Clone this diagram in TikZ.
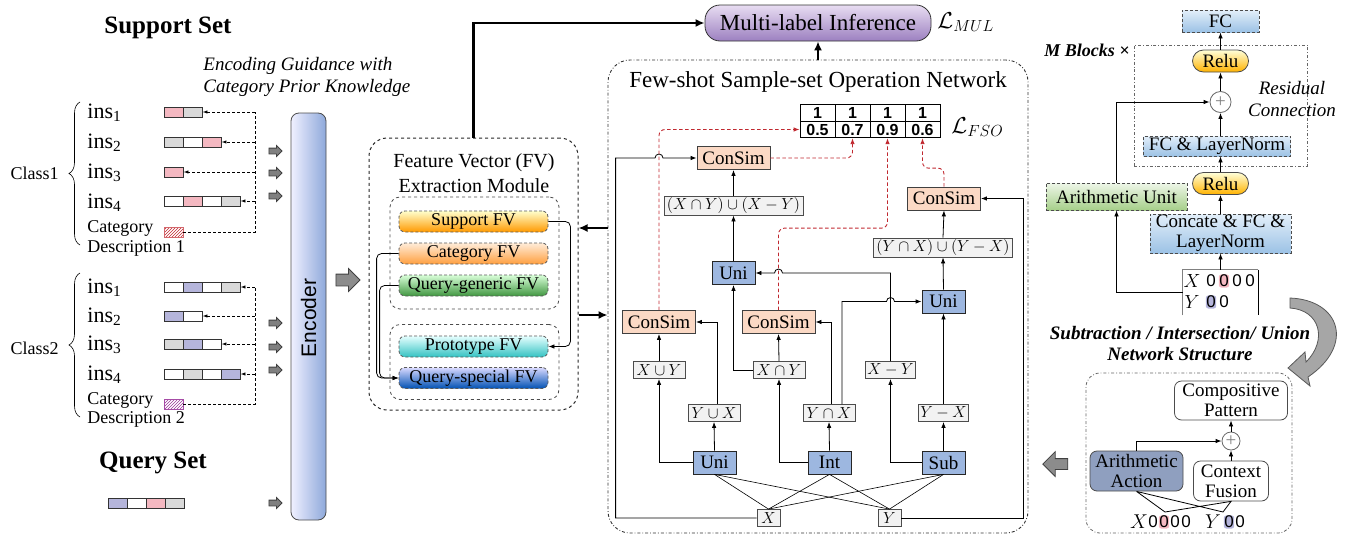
\documentclass[tikz,border=0pt]{standalone}
\usepackage{fix-cm}
\usepackage{amsmath}
\usepackage{fontspec}
\setmainfont{Liberation Serif}
\setsansfont{Liberation Sans}
\usetikzlibrary{arrows.meta,patterns,shapes.arrows,decorations.pathreplacing}

\definecolor{pinkc}{HTML}{F4B8C1}
\definecolor{grayc}{HTML}{D9D9D9}
\definecolor{bluec}{HTML}{B5B5DB}
\definecolor{peach}{HTML}{FBD9C5}
\definecolor{opblue}{HTML}{9DB7E0}
\definecolor{encblue}{HTML}{8EA9DB}
\definecolor{aablue}{HTML}{8F9FBF}
\definecolor{dashred}{HTML}{C0282F}
\definecolor{mlitop}{HTML}{E8DDF2}
\definecolor{mlibot}{HTML}{9C80C0}
\definecolor{lbtop}{HTML}{E3EFFA}
\definecolor{lbbot}{HTML}{9CC2E5}
\definecolor{gntop}{HTML}{EEF6E8}
\definecolor{gnbot}{HTML}{A6CF8A}

\newcommand\fsize[2]{\fontsize{#1}{#2}\selectfont}
\newcommand\vecbar[4]{\foreach \col [count=\n] in {#4} {\node[cell, fill=\col] (#1-\n) at ({#2+19*\n-9.5},#3) {};}}

\tikzset{
  cell/.style={draw=black!80, line width=0.9pt, minimum width=19pt, minimum height=10pt, inner sep=0pt},
  guide/.style={dash pattern=on 3pt off 2pt, line width=0.9pt, -{Latex[length=5pt,width=3.5pt]}},
  tinyarr/.style={single arrow, draw=black!75, fill=black!50, minimum height=13pt, inner sep=2.5pt, single arrow head extend=2.5pt},
  bigarr/.style={single arrow, draw=black!75, fill=black!45, minimum height=24pt, inner sep=5.5pt, single arrow head extend=5.5pt},
  fvbox/.style={draw=black!65, densely dashed, rounded corners=6pt, minimum width=149pt, minimum height=21pt, inner sep=0pt, font=\fsize{18}{20}},
  grp/.style={draw=black!70, dashed, rounded corners=10pt, minimum width=169pt},
  consim/.style={draw=black!75, fill=peach, minimum width=73pt, minimum height=23pt, inner sep=0pt},
  op/.style={draw=black!85, fill=opblue, minimum width=43pt, minimum height=23pt, inner sep=0pt},
  expr/.style={draw=black!70, fill=black!5, minimum height=17pt, inner sep=1.5pt, font=\fsize{16}{18}},
  tcell/.style={draw=black, minimum width=35pt, minimum height=16.5pt, inner sep=0pt, font=\sffamily\bfseries\fsize{16}{18}},
  redline/.style={dashred, line width=0.9pt, dash pattern=on 3.5pt off 2.5pt, rounded corners=6pt, ->},
  thickarr/.style={line width=2.2pt, -{Latex[length=9pt,width=8pt]}},
  bluebox/.style={draw=black!70, densely dashed, top color=lbtop, bottom color=lbbot, inner sep=0pt},
  relu/.style={draw=black!70, rounded corners=11pt, top color=yellow!15, bottom color=orange!60!yellow, minimum width=56pt, minimum height=22pt, inner sep=0pt},
  rbox/.style={draw=black!70, rounded corners=7pt, align=center, inner sep=0pt, font=\fsize{19}{20}},
  zero/.style={font=\sffamily\fsize{17}{17}, inner sep=0.5pt, rounded corners=2.5pt}
}

\begin{document}
\begin{tikzpicture}[x=1pt, y=-1pt, line width=0.8pt, >={Latex[length=6pt,width=4.5pt]},
  every node/.style={font=\fsize{19}{21}, inner sep=1pt}]
\useasboundingbox (0,0) rectangle (1349,538);

\node[font=\fsize{25}{27}\bfseries] (sup) at (168,28) {Support Set};
\node[font=\fsize{19}{22}\itshape, align=left, anchor=west] (hint) at (202,77) {Encoding Guidance with\\Category Prior Knowledge};

\node[anchor=east, font=\fsize{18}{20}] (c1) at (60,173) {Class1};
\draw[line width=0.6pt, decorate, decoration={brace, amplitude=11pt}] (80,245) -- (80,102);
\node[anchor=base west, font=\fsize{22}{24}] (a1) at (86,118) {ins\textsubscript{1}};
\node[anchor=base west, font=\fsize{22}{24}] (a2) at (86,148) {ins\textsubscript{2}};
\node[anchor=base west, font=\fsize{22}{24}] (a3) at (86,178) {ins\textsubscript{3}};
\node[anchor=base west, font=\fsize{22}{24}] (a4) at (86,208) {ins\textsubscript{4}};
\node[anchor=base west, font=\fsize{18}{20}] (d1a) at (86,232) {Category};
\node[anchor=base west, font=\fsize{18}{20}] (d1b) at (86,252) {Description 1};
\vecbar{sA1}{164}{112}{pinkc,grayc}
\vecbar{sA2}{164}{142}{grayc,white,pinkc}
\vecbar{sA3}{164}{172}{pinkc}
\vecbar{sA4}{164}{201}{white,pinkc,white,grayc}
\node[cell, draw=dashred!70, pattern=north east lines, pattern color=dashred] (cA) at (173.5,232) {};
\coordinate (gA) at (255,0);
\draw[dash pattern=on 3pt off 2pt, line width=0.9pt] (cA.east) -| (gA |- sA1-2);
\draw[guide] (gA |- sA1-2) -- (sA1-2.east);
\draw[guide] (gA |- sA2-3) -- (sA2-3.east);
\draw[guide] (gA |- sA3-1) -- (sA3-1.east);
\draw[guide] (gA |- sA4-4) -- (sA4-4.east);

\node[anchor=east, font=\fsize{18}{20}] (c2) at (60,348) {Class2};
\draw[line width=0.6pt, decorate, decoration={brace, amplitude=11pt}] (80,417) -- (80,273);
\node[anchor=base west, font=\fsize{22}{24}] (b1) at (86,293) {ins\textsubscript{1}};
\node[anchor=base west, font=\fsize{22}{24}] (b2) at (86,322) {ins\textsubscript{2}};
\node[anchor=base west, font=\fsize{22}{24}] (b3) at (86,350) {ins\textsubscript{3}};
\node[anchor=base west, font=\fsize{22}{24}] (b4) at (86,380) {ins\textsubscript{4}};
\node[anchor=base west, font=\fsize{18}{20}] (d2a) at (86,404) {Category};
\node[anchor=base west, font=\fsize{18}{20}] (d2b) at (86,423) {Description 2};
\vecbar{sB1}{164}{287}{white,bluec,white,grayc}
\vecbar{sB2}{164}{316}{bluec,white}
\vecbar{sB3}{164}{344}{grayc,bluec,white}
\vecbar{sB4}{164}{374}{white,grayc,white,bluec}
\node[cell, draw=violet!70, pattern=north east lines, pattern color=violet!80] (cB) at (173.5,404) {};
\coordinate (gB) at (255,0);
\draw[dash pattern=on 3pt off 2pt, line width=0.9pt] (cB.east) -| (gB |- sB1-4);
\draw[guide] (gB |- sB1-4) -- (sB1-4.east);
\draw[guide] (gB |- sB2-2) -- (sB2-2.east);
\draw[guide] (gB |- sB3-3) -- (sB3-3.east);
\draw[guide] (gB |- sB4-4) -- (sB4-4.east);

\node[font=\fsize{25}{27}\bfseries] (qs) at (153,463) {Query Set};
\vecbar{q}{108}{503}{bluec,white,pinkc,grayc}

\foreach \yy [count=\n] in {151,173,196,323,347,370,503}
  \node[tinyarr] (ta\n) at (274,\yy) {};

\node[draw=black!70, rounded corners=8pt, left color=blue!6, right color=encblue, minimum width=35pt, minimum height=407pt, inner sep=0pt] (enc) at (308.5,316.5) {};
\node[rotate=90, font=\sffamily\fsize{21}{23}] (enctxt) at (308.5,318) {Encoder};
\node[bigarr] (ea) at (345,280) {};

\node[draw=black!85, dashed, line width=1pt, rounded corners=18pt, minimum width=209pt, minimum height=272pt] (fvm) at (473.5,274) {};
\node[align=center, font=\fsize{20}{25}] (fvt) at (474,173) {Feature Vector (FV)\\Extraction Module};
\node[grp, minimum height=112pt] (g1) at (474.5,253) {};
\node[grp, minimum height=75pt] (g2) at (474.5,362) {};
\node[fvbox, top color=yellow!20, bottom color=orange!80!yellow] (sfv) at (473.5,221.5) {Support FV};
\node[fvbox, top color=orange!15, bottom color=orange!75] (cfv) at (473.5,253.5) {Category FV};
\node[fvbox, top color=green!15!white, bottom color=green!45!black!75] (qgfv) at (473.5,285.5) {Query-generic FV};
\node[fvbox, top color=cyan!10, bottom color=cyan!70!black!80] (pfv) at (473.5,346.5) {Prototype FV};
\node[fvbox, top color=blue!15, bottom color=blue!55!cyan!70!black] (qsfv) at (473.5,378) {Query-special FV};
\draw[->, rounded corners=5pt] (sfv.east) -- ++(22,0) |- (pfv.east);
\draw[->, rounded corners=5pt] (cfv.west) -- ++(-22,0) |- (qsfv.west);
\draw[->, rounded corners=5pt] (qgfv.west) -- ++(-19,0) |- (qsfv.west);

\node[draw=black!80, rounded corners=15pt, top color=mlitop, bottom color=mlibot, minimum width=226pt, minimum height=36pt, font=\fsize{23}{25}] (mli) at (818,23) {Multi-label Inference};
\node[anchor=west, font=\fsize{23}{25}] (lmul) at (936,22) {$\mathcal{L}_{MUL}$};
\draw[thickarr] (fvm.north) |- (mli.west);

\node[draw=black!80, dash dot, line width=0.9pt, rounded corners=22pt, minimum width=420pt, minimum height=473pt] (fso) at (818,296.5) {};
\node[font=\fsize{23}{25}] (fsot) at (818,82) {Few-shot Sample-set Operation Network};
\draw[thickarr] (fso.north) -- (mli.south);
\coordinate (fvin) at (0,228);
\coordinate (fvout) at (0,315);
\draw[thickarr] (fso.west |- fvin) -- (fvm.east |- fvin);
\draw[thickarr] (fvm.east |- fvout) -- (fso.west |- fvout);

\foreach \val [count=\n] in {0.5,0.7,0.9,0.6} {
  \node[tcell] (t\n) at ({782.5+35*\n},113) {1};
  \node[tcell] (v\n) at ({782.5+35*\n},129.5) {\val};
}
\node[anchor=west, font=\fsize{23}{25}] (lfso) at (950,127) {$\mathcal{L}_{FSO}$};

\node[consim] (ct) at (733.5,158) {ConSim};
\node[expr, minimum width=139pt] (exy) at (733.5,205.5) {$(X\cap Y)\cup(X-Y)$};
\node[op] (um) at (733.5,273) {Uni};
\node[consim] (ctr) at (944,198.5) {ConSim};
\node[expr, minimum width=139pt] (eyx) at (943,247.5) {$(Y\cap X)\cup(Y-X)$};
\node[op] (ur) at (943.5,301.5) {Uni};
\node[consim] (cl) at (659,322) {ConSim};
\node[consim] (cm) at (778.5,322) {ConSim};
\node[expr, minimum width=52pt] (xuy) at (659,370) {$X\cup Y$};
\node[expr, minimum width=52pt] (xiy) at (779,370) {$X\cap Y$};
\node[expr, minimum width=49pt] (xmy) at (890.5,370) {$X-Y$};
\node[expr, minimum width=52pt] (yux) at (714,413) {$Y\cup X$};
\node[expr, minimum width=52pt] (yix) at (829,413) {$Y\cap X$};
\node[expr, minimum width=49pt] (ymx) at (943.5,413) {$Y-X$};
\node[op] (ub) at (714.5,462.5) {Uni};
\node[op] (ib) at (829.5,462.5) {Int};
\node[op] (sb) at (943.5,462.5) {Sub};
\node[expr, minimum width=23pt] (xn) at (768.5,518) {$X$};
\node[expr, minimum width=23pt] (yn) at (889.5,518) {$Y$};

\foreach \top in {ub,ib,sb} {
  \draw[line width=0.6pt] (xn.north) -- (\top.south);
  \draw[line width=0.6pt] (yn.north) -- (\top.south);
}
\draw[->] (ub.west) -| (xuy.south);
\draw[->] (ub.north) -- (yux.south);
\draw[->] ([xshift=3pt]yux.north) |- (cl.east);
\draw[->] (xuy.north) -- (cl.south);
\draw[->] (ib.west) -| (xiy.south);
\draw[->] (ib.north) -- (yix.south);
\draw[->] ([xshift=2pt]yix.north) |- (cm.east);
\draw[->] ([xshift=13pt]yix.north) |- ([xshift=-4pt]xmy.north |- ur.west) arc[start angle=180, end angle=0, radius=4pt] -- (ur.west);
\draw[->] (xiy.north) -- (cm.south);
\draw[->] (xiy.west) -| (um.south);
\draw[->] (sb.west) -| (xmy.south);
\draw[->] (sb.north) -- (ymx.south);
\draw[->] (xmy.north) |- ([xshift=4pt]cm.north |- um.east) arc[start angle=0, end angle=180, radius=4pt] -- (um.east);
\draw[->] (ymx.north) -- (ur.south);
\draw[->] (ur.north) -- (eyx.south);
\draw[->] (eyx.north) -- (ctr.south);
\draw[->] (um.north) -- (exy.south);
\draw[->] (exy.north) -- (ct.south);
\draw[->] (xn.west) -| ([xshift=-81pt]ct.west) -- ([xshift=-4pt]cl.north |- ct.west) arc[start angle=180, end angle=0, radius=4pt] -- (ct.west);
\draw[->] (yn.east) -| ([xshift=42pt]ctr.east) -- (ctr.east);

\draw[redline] (cl.north) |- (v1.west);
\draw[redline] (ct.east) -| (v2.south);
\draw[redline] (cm.north) |- ([yshift=-90pt]v3.south) -- (v3.south);
\draw[redline] (ctr.north) |- ([yshift=-30pt]v4.south) -- (v4.south);

\node[draw=black!60, dash dot, minimum width=173pt, minimum height=121pt] (mb) at (1220.5,105.5) {};
\node[bluebox, minimum width=77pt, minimum height=22pt] (fc) at (1220.5,21) {FC};
\node[relu] (r1) at (1220.5,61) {Relu};
\node[draw=black!60, circle, fill=white, minimum size=21pt, inner sep=0pt, text=black!50] (p1) at (1220.5,102) {+};
\node[anchor=east, font=\fsize{18}{20}\bfseries\itshape] (mbt) at (1131,50) {M Blocks ×};
\node[align=center, font=\fsize{19}{22}\itshape] (res) at (1292,99) {Residual\\Connection};
\node[bluebox, minimum width=147pt, minimum height=20pt] (fcln) at (1217,146) {FC \& LayerNorm};
\node[relu] (r2) at (1220.5,183.5) {Relu};
\node[draw=black!70, densely dashed, top color=gntop, bottom color=gnbot, minimum width=141pt, minimum height=27pt, inner sep=0pt] (au) at (1116.5,196.5) {Arithmetic Unit};
\node[bluebox, minimum width=141pt, minimum height=39pt, align=center, font=\fsize{19}{20}] (cc) at (1220.5,233.5) {Concate \& FC \&\\LayerNorm};
\node[minimum width=75pt, minimum height=45pt, inner sep=0pt] (xy) at (1220.5,292.5) {};
\draw[black!50] (xy.south west) |- (xy.north east);
\draw[line width=1.6pt] (xy.north east) -- (xy.south east);
\node[font=\fsize{19}{20}] (xl) at (1192,281) {$X$};
\node[font=\fsize{19}{20}] (yl) at (1192,302) {$Y$};
\foreach \xx/\hl [count=\n] in {1211/none,1224/pinkc,1237/none,1250/none}
  \node[zero, fill=\hl] (xd\n) at (\xx,281) {0};
\foreach \xx/\hl [count=\n] in {1211/bluec,1224/none}
  \node[zero, fill=\hl] (yd\n) at (\xx,302) {0};
\draw[->] (xy.west) -| (au.south);
\draw[->] (au.north) |- (p1.west);
\draw[->] (xy.north) -- (cc.south);
\draw[->] (cc.north) -- (r2.south);
\draw[->] (r2.north) -- (r2.north |- fcln.south);
\draw[->] (fcln.north -| p1) -- (p1.south);
\draw[->] (p1.north) -- (r1.south);
\draw[->] (r1.north) -- (fc.south);

\draw[draw=black!65, fill=black!35] (1290,298) .. controls (1340,300) and (1355,345) .. (1308,377) -- (1310,386) -- (1288,368) -- (1305,352) -- (1306,362) .. controls (1328,340) and (1320,310) .. (1290,308) -- cycle;
\node[align=center, font=\fsize{19}{21}\bfseries\itshape] (nst) at (1180,344) {Subtraction / Intersection/ Union\\Network Structure};

\node[draw=black!60, dash dot, rounded corners=14pt, minimum width=206pt, minimum height=160pt] (ns) at (1189,453) {};
\node[rbox, minimum width=113pt, minimum height=39pt] (cp) at (1231,400.5) {Compositive\\Pattern};
\node[draw=black!60, circle, fill=white, minimum size=18pt, inner sep=0pt, text=black!50] (p2) at (1231,441) {+};
\node[rbox, fill=aablue, minimum width=93pt, minimum height=40pt] (aa) at (1136.5,471) {Arithmetic\\Action};
\node[rbox, minimum width=75pt, minimum height=40pt] (cf) at (1231,481) {Context\\Fusion};
\draw[->] (aa.north) |- (p2.west);
\draw[->] (cf.north) -- (p2.south);
\draw[->] (p2.north) -- (cp.south);
\node[font=\fsize{20}{20}] (xb) at (1139,522) {$X$};
\node[font=\fsize{20}{20}] (yb) at (1213,522) {$Y$};
\foreach \xx/\hl [count=\n] in {1153/none,1164/pinkc,1175/none,1186/none}
  \node[zero, fill=\hl] (xbd\n) at (\xx,522) {0};
\foreach \xx/\hl [count=\n] in {1229/bluec,1240/none}
  \node[zero, fill=\hl] (ybd\n) at (\xx,522) {0};
\coordinate (xa) at (1165,512);
\coordinate (ya) at (1223,512);
\draw (aa.south) -- (xa) -- (cf.south) -- (ya) -- (aa.south);
\node[bigarr, rotate=180, minimum height=25pt, inner sep=5pt, single arrow head extend=7pt] (la) at (1058,464) {};
\end{tikzpicture}
\end{document}
